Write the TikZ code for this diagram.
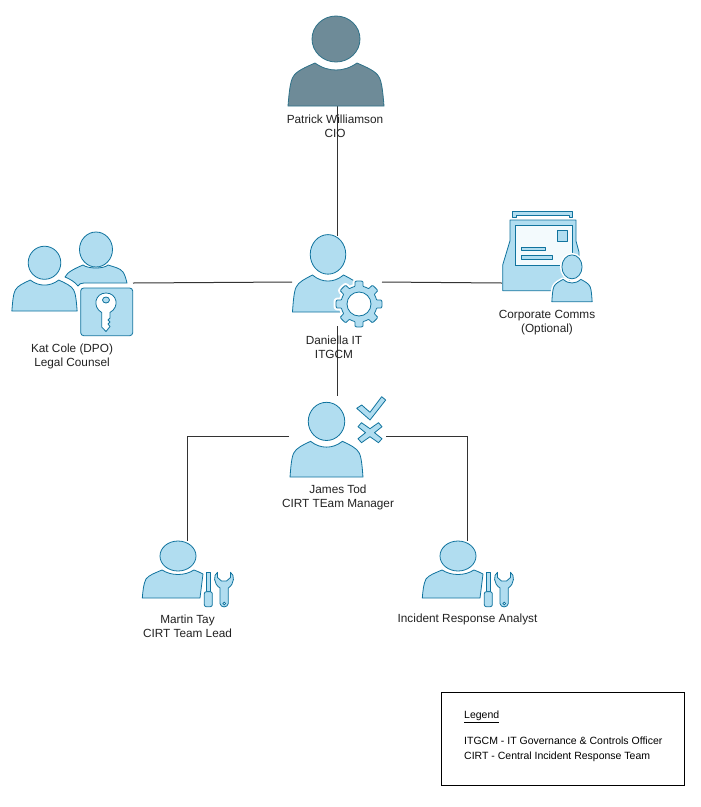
\documentclass[tikz,border=0pt]{standalone}
\usepackage{fontspec}
\setmainfont{Liberation Sans}
\usetikzlibrary{positioning}

\definecolor{iconfill}{HTML}{B1DDF0}
\definecolor{iconline}{HTML}{10739E}
\definecolor{ciofill}{HTML}{6E8B98}
\definecolor{cioline}{HTML}{2E7188}
\definecolor{linkline}{HTML}{333333}
\definecolor{labeltext}{HTML}{222222}

\tikzset{
	icon/.style={fill=iconfill,draw=iconline,line width=0.8pt,line join=round},
	cioicon/.style={fill=ciofill,draw=cioline,line width=0.8pt,line join=round},
	link/.style={draw=linkline,line width=1pt},
	caption/.style={align=center,text=labeltext,font=\fontsize{11.8}{14}\selectfont,inner sep=0pt},
	legendtext/.style={anchor=west,inner sep=0pt,text=black,font=\fontsize{10.5}{12}\selectfont},
	person/.pic={
		\path[pic actions] (0,-67) ellipse (24 and 23);
		\path[pic actions] (-48,0) .. controls (-47,-12) and (-46,-24) .. (-43,-29)
			.. controls (-40,-35) and (-30,-39) .. (-21,-43)
			.. controls (-14,-38) and (-7,-36) .. (0,-36)
			.. controls (7,-36) and (14,-38) .. (21,-43)
			.. controls (30,-39) and (40,-35) .. (43,-29)
			.. controls (46,-24) and (47,-12) .. (48,0) -- cycle;
	},
	teamperson/.pic={
		\path[icon] (178,556) ellipse (18 and 15);
		\path[icon] (142.3,598) .. controls (143,590) and (143.5,584) .. (146,579)
			.. controls (149,575) and (155,573) .. (162,570)
			.. controls (167,573) and (172,574.5) .. (178,574.5)
			.. controls (184,574.5) and (189,573) .. (194,570)
			.. controls (197,571) and (200,572.5) .. (203,574) -- (200,598) -- cycle;
		% screwdriver
		\path[icon] (206.7,572.3) -- (210,572.3) -- (210,591.7) -- (206.7,591.7) -- cycle;
		\path[icon,rounded corners=2pt] (204.3,591.7) -- (212.3,591.7) -- (212.3,606.7) -- (204.3,606.7) -- cycle;
		% wrench
		\path[icon] (217.5,572.3) .. controls (213,575) and (213.5,584) .. (220,588)
			-- (220,603.5) .. controls (220.5,608) and (227.8,608) .. (228.3,603.5) -- (228.3,588)
			.. controls (234.5,584) and (235,575) .. (230.5,572.3) -- (230.5,577.5)
			-- (226.5,581) -- (221.5,581) -- (217.5,577.5) -- cycle;
		\path[draw=iconline,fill=white,line width=0.7pt] (224.2,603.5) circle (1.4);
	}
}

\begin{document}
\begin{tikzpicture}[x=1pt,y=-1pt]
	\useasboundingbox (0,0) rectangle (701,807);
	\fill[white] (0,0) rectangle (701,807);

	% The connector ends
	\coordinate (cioend) at (337,106);
	\coordinate (itgcmtop) at (337,236);
	\coordinate (itgcmleft) at (292,282);
	\coordinate (itgcmright) at (382,282);
	\coordinate (itgcmbottom) at (337,326);
	\coordinate (legalend) at (133,283);
	\coordinate (commsend) at (502,283);
	\coordinate (cirttop) at (337,396);
	\coordinate (cirtleft) at (289,436);
	\coordinate (cirtright) at (386,436);
	\coordinate (leadend) at (187,541);
	\coordinate (analystend) at (467,541);

	% The lines
	\draw[link] (cioend) -- (itgcmtop);
	\draw[link] (legalend) -- (itgcmleft);
	\draw[link] (itgcmright) -- (commsend);
	\draw[link] (itgcmbottom) -- (cirttop);
	\draw[link] (cirtleft) -| (leadend);
	\draw[link] (cirtright) -| (analystend);

	% CIO
	\pic[cioicon] at (336,106) {person};
	\node[caption] (ciolabel) at (335,126.5) {Patrick Williamson\\CIO};

	% Legal
	\path[icon] (65,277) .. controls (67,272) and (76,268) .. (83,265)
		.. controls (88,269) and (104,269) .. (108,265)
		.. controls (114,267) and (120,268) .. (123,272)
		.. controls (125,275) and (126,279) .. (127,283) -- (84,283)
		.. controls (81,283) and (79,284) .. (78,286)
		.. controls (75,282) and (70,279) .. (65,277) -- cycle;
	\path[icon] (96,249.5) ellipse (16.5 and 17.5);
	\pic[icon,xscale=0.68,yscale=0.72] at (44.5,311) {person};
	\path[icon,rounded corners=3pt] (80.7,288) rectangle (132.7,335.7);
	\path[draw=iconline,fill=white,line width=0.8pt,line join=round]
		(101.7,312.5) .. controls (92,307) and (95,293) .. (106,293)
		.. controls (117,293) and (120,307) .. (110,312.5)
		-- (110,318) -- (108,320) -- (110,322) -- (108,324) -- (110,326.5) -- (106,331.5)
		-- (101.7,327) -- cycle;
	\path[icon] (106,300) ellipse (3.5 and 3);
	\node[caption] (legallabel) at (72,356) {Kat Cole (DPO)\\Legal Counsel};

	% ITGCM
	\pic[icon,xscale=0.74,yscale=0.86] at (328,312) {person};
	\begin{scope}[shift={(359,304)}]
		\path[draw=white,fill=white,line width=5pt,line join=round]
			plot[domain=0:360,samples=145] (\x:{18+5*min(1,max(0,2.2*cos(8*\x)+0.5))}) -- cycle;
		\path[icon,even odd rule] plot[domain=0:360,samples=145] (\x:{18+5*min(1,max(0,2.2*cos(8*\x)+0.5))}) -- cycle
			(0,0) circle (12);
	\end{scope}
	\node[caption] (itgcmlabel) at (334,347) {Daniella IT\\ITGCM};

	% Comms
	\path[icon] (512.7,211) -- (572.7,211) -- (572.7,217.5) -- (569.3,217.5) -- (569.3,215) -- (516,215) -- (516,217.5) -- (512.7,217.5) -- cycle;
	\path[icon] (502.7,265) -- (510,240.7) -- (510,220) -- (576,220) -- (576,241) -- (579,252) -- (579,270) -- (560,290.7) -- (502.7,290.7) -- cycle;
	\path[draw=iconline,fill=white!85!iconfill,line width=0.8pt] (515,225) rectangle (572,265);
	\path[icon] (557,230) rectangle (567,241);
	\path[icon] (521.5,247) rectangle (545.5,250.5);
	\path[icon] (521.5,255.5) rectangle (552.5,259);
	\pic[draw=white,fill=white,line width=4pt,line join=round,xscale=0.42,yscale=0.52] at (572,301.7) {person};
	\pic[icon,xscale=0.42,yscale=0.52] at (572,301.7) {person};
	\node[caption] (commslabel) at (547,322.5) {Corporate Comms\\(Optional)};

	% CIRT
	\pic[icon,xscale=0.76,yscale=0.83] at (326.5,477) {person};
	\path[icon] (356.7,408.3) -- (361.7,405) -- (370,412.3) -- (381.7,396.7) -- (385.7,400) -- (370,420) -- cycle;
	\begin{scope}[shift={(370,432.7)}]
		\path[icon] (-8.5,-10) -- (-12,-6) -- (-4.5,0) -- (-12,6) -- (-8.5,10) -- (0,4) -- (8.5,10) -- (12,6)
			-- (4.5,0) -- (12,-6) -- (8.5,-10) -- (0,-4) -- cycle;
	\end{scope}
	\node[caption] (cirtlabel) at (338,497) {James Tod\\CIRT TEam Manager};

	% Team
	\pic at (0,0) {teamperson};
	\node[caption] (leadlabel) at (187.5,626.5) {Martin Tay\\CIRT Team Lead};
	\pic at (280,0) {teamperson};
	\node[caption] (analystlabel) at (467.5,619.5) {Incident Response Analyst};

	% Legend
	\node[draw=black,line width=1pt,minimum width=243pt,minimum height=93pt,anchor=north west,inner sep=0pt] (legendbox) at (440.5,692) {};
	\node[legendtext] (legendhead) at (464,717) {\underline{Legend}};
	\node[legendtext] (legenditgcm) at (464,741) {ITGCM - IT Governance \& Controls Officer};
	\node[legendtext] (legendcirt) at (464,757) {CIRT - Central Incident Response Team};
\end{tikzpicture}
\end{document}
